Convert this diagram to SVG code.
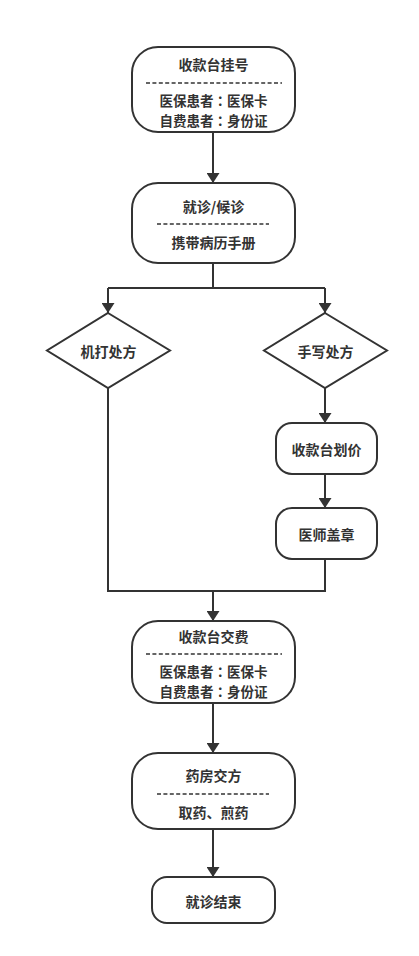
<svg xmlns="http://www.w3.org/2000/svg" width="419" height="956" viewBox="0 0 419 956">
<style>
.box{fill:#fff;stroke:#333;stroke-width:2}
.t{font-family:"Noto Sans CJK SC","Noto Sans",sans-serif;font-size:14px;font-weight:bold;fill:#333;text-anchor:middle;dominant-baseline:central}
.s{font-size:13.5px}
.col{font-family:"Noto Sans CJK TC","Noto Sans CJK SC",sans-serif}
.dash{stroke:#333;stroke-width:1.5;stroke-dasharray:4 2.4}
.c{fill:none;stroke:#333;stroke-width:2}
</style>
<defs>
<marker id="arr" viewBox="0 0 10 10" refX="10" refY="5" markerWidth="5" markerHeight="6.5" markerUnits="strokeWidth" orient="auto" preserveAspectRatio="none">
<path d="M0,0 L10,5 L0,10 Z" fill="#333"/>
</marker>
</defs>
<rect width="419" height="956" fill="#fff"/>
<g id="connectors">
<path class="c" d="M213,132 V183" marker-end="url(#arr)"/>
<path class="c" d="M213,263 V288"/>
<path class="c" d="M108,288 H325"/>
<path class="c" d="M108,288 V313" marker-end="url(#arr)"/>
<path class="c" d="M325,288 V313" marker-end="url(#arr)"/>
<path class="c" d="M108,388 V591 H213"/>
<path class="c" d="M325,388 V423" marker-end="url(#arr)"/>
<path class="c" d="M325,474 V508" marker-end="url(#arr)"/>
<path class="c" d="M325,559 V591 H213"/>
<path class="c" d="M213,591 V621" marker-end="url(#arr)"/>
<path class="c" d="M213,703 V753" marker-end="url(#arr)"/>
<path class="c" d="M213,829 V877" marker-end="url(#arr)"/>
</g>
<g id="n1">
<rect class="box" x="132" y="47" width="163" height="85" rx="26"/>
<text class="t" x="213.5" y="64">收款台挂号</text>
<line class="dash" x1="146" y1="83" x2="282" y2="83"/>
<text class="t s" x="213.5" y="100">医保患者<tspan class="col">：</tspan>医保卡</text>
<text class="t s" x="213.5" y="120">自费患者<tspan class="col">：</tspan>身份证</text>
</g>
<g id="n2">
<rect class="box" x="132" y="183" width="163" height="80" rx="26"/>
<text class="t" x="213.5" y="206">就诊/候诊</text>
<line class="dash" x1="157" y1="224" x2="269" y2="224"/>
<text class="t" x="213.5" y="242">携带病历手册</text>
</g>
<g id="d1">
<polygon class="box" points="108,313 170,350.5 108,388 47,350.5"/>
<text class="t" x="108.5" y="350.5">机打处方</text>
</g>
<g id="d2">
<polygon class="box" points="325,313 387,350.5 325,388 264,350.5"/>
<text class="t" x="325.5" y="350.5">手写处方</text>
</g>
<g id="n3">
<rect class="box" x="276" y="423" width="101" height="51" rx="16"/>
<text class="t" x="326.5" y="449">收款台划价</text>
</g>
<g id="n4">
<rect class="box" x="276" y="508" width="101" height="51" rx="16"/>
<text class="t" x="326.5" y="534">医师盖章</text>
</g>
<g id="n5">
<rect class="box" x="132" y="621" width="163" height="82" rx="26"/>
<text class="t" x="213.5" y="636">收款台交费</text>
<line class="dash" x1="146" y1="654" x2="282" y2="654"/>
<text class="t s" x="213.5" y="671">医保患者<tspan class="col">：</tspan>医保卡</text>
<text class="t s" x="213.5" y="691">自费患者<tspan class="col">：</tspan>身份证</text>
</g>
<g id="n6">
<rect class="box" x="132" y="753" width="163" height="76" rx="26"/>
<text class="t" x="213.5" y="775">药房交方</text>
<line class="dash" x1="157" y1="794" x2="269" y2="794"/>
<text class="t" x="213.5" y="812">取药、煎药</text>
</g>
<g id="n7">
<rect class="box" x="152" y="877" width="123" height="46" rx="15"/>
<text class="t" x="213.5" y="901">就诊结束</text>
</g>
</svg>
